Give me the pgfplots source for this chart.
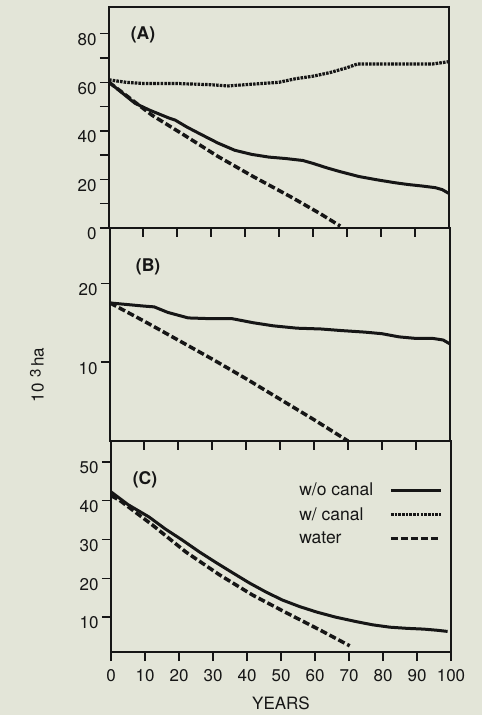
\documentclass[border=0pt]{standalone}
\usepackage{fontspec}
\setmainfont{TeX Gyre Heros}
\usepackage{pgfplots}
\pgfplotsset{compat=1.18}
\definecolor{bg}{RGB}{227,229,216}
\definecolor{ink}{RGB}{22,22,22}
\pgfplotsset{
  panel/.style={
    scale only axis, width=340pt, xmin=0, xmax=100,
    axis line style={line width=1.6pt, ink},
    every tick/.style={line width=1.4pt, ink},
    tick align=outside, major tick length=9pt, minor tick length=9pt,
    xtick pos=bottom, ytick pos=left,
    /pgf/number format/assume math mode=true,
    tick label style={font=\fontsize{17}{19}\selectfont, text=ink},
    yticklabel style={yshift=-6pt},
  },
  woc/.style={line width=3pt, ink},
  wc/.style={line width=3.2pt, ink, dash pattern=on 2.6pt off 1.1pt},
  wat/.style={line width=3.5pt, ink, dash pattern=on 7pt off 3pt},
}
\tikzset{plab/.style={font=\bfseries\fontsize{17.5}{19}\selectfont, text=ink}}
\begin{document}
\begin{tikzpicture}
\fill[bg] (0pt,0pt) rectangle (482pt,715pt);
% Panel A
\begin{axis}[panel, at={(109pt,487pt)}, anchor=south west, height=221pt,
  ymin=0, ymax=91, ytick={0,20,...,80}, minor ytick={10,30,50,70},
  xtick={10,20,...,90}, xticklabels={}]
\addplot[woc] coordinates {(0,60) (4,55.5) (7.6,51.4) (12,48.5) (17.6,45.3) (19.5,44.4) (23,41.5) (27.4,38.3) (32,35) (37,32) (42,30.3) (47,29.2) (52,28.6) (57,27.8) (60,26.6) (64,24.8) (68,23.2) (73.5,21.2) (79,19.8) (84.3,18.6) (88,17.9) (92,17.3) (96,16.6) (98,15.8) (100,14.2)};
\addplot[wc] coordinates {(0,61) (5,60) (10,59.5) (20,59.5) (30,59) (35,58.5) (40,59) (45,59.5) (50,60) (55,61.5) (60,62.5) (65,64) (70,66) (73,67.5) (80,67.5) (90,67.5) (95,67.5) (100,68.5)};
\addplot[wat] coordinates {(0,60) (3,56.8) (12.6,46.5) (22.4,38) (32,29.5) (42,21.5) (53.5,12.8) (62,6) (68,0.8)};
\node[plab] at (rel axis cs:0.1,0.875) {(A)};
\end{axis}
% Panel B
\begin{axis}[panel, at={(110pt,274pt)}, anchor=south west, height=213pt,
  ymin=0, ymax=27, ytick={10,20},
  xtick={10,20,...,90}, xticklabels={}]
\addplot[woc] coordinates {(0,17.5) (5,17.3) (10,17.1) (13,17) (17,16.3) (23,15.6) (30,15.5) (36,15.5) (42,15) (48,14.6) (55,14.3) (62,14.2) (68,14) (75,13.8) (80,13.6) (85,13.2) (90,13.0) (95,13.0) (98,12.8) (100,12.3)};
\addplot[wat] coordinates {(0,17.5) (10,15.2) (20,12.8) (30,10.4) (40,7.9) (50,5.3) (60,2.7) (70,0)};
\node[plab] at (rel axis cs:0.112,0.817) {(B)};
\end{axis}
% Panel C
\begin{axis}[panel, at={(111pt,63pt)}, anchor=south west, height=211pt,
  ymin=1, ymax=55.4, ytick={10,20,...,50},
  xtick={0,10,...,100},
  xticklabel style={yshift=-5pt},
  xlabel={YEARS}, xlabel style={font=\fontsize{17}{19}\selectfont, text=ink, yshift=-8pt},
  legend style={at={(rel axis cs:0.985,0.82)}, anchor=north east, draw=none, fill=none,
    font=\fontsize{17.5}{19}\selectfont, text=ink, row sep=6pt,
    /tikz/every odd column/.append style={column sep=14pt}},
  legend cell align=left, legend plot pos=right,
  legend image code/.code={\draw[#1] (0pt,0pt) -- (50pt,0pt);}]
\addplot[woc] coordinates {(0,42.3) (5,39) (11.2,35.8) (16,32.7) (20.9,29.9) (26,26.8) (31,24) (36,21.3) (40.7,18.8) (45.5,16.5) (50.4,14.4) (55.5,12.7) (60.5,11.3) (66,10) (72.3,8.8) (77,8) (82,7.4) (87,7.1) (92,6.9) (96,6.6) (99,6.3)};
\addlegendentry{w/o canal}
\addlegendimage{wc}
\addlegendentry{w/ canal}
\addplot[wat] coordinates {(0,41.3) (2.4,40.2) (12.1,33.8) (22,26.8) (31.9,20.9) (41.6,15.7) (51.6,11.1) (61.4,6.7) (70.2,2.6)};
\addlegendentry{water}
\node[plab] at (rel axis cs:0.1,0.815) {(C)};
\end{axis}
\node[rotate=90, font=\fontsize{17}{19}\selectfont, text=ink] at (37pt,340pt) {10\,\,\raisebox{3pt}{\fontsize{15}{17}\selectfont 3}\,ha};
\end{tikzpicture}
\end{document}
